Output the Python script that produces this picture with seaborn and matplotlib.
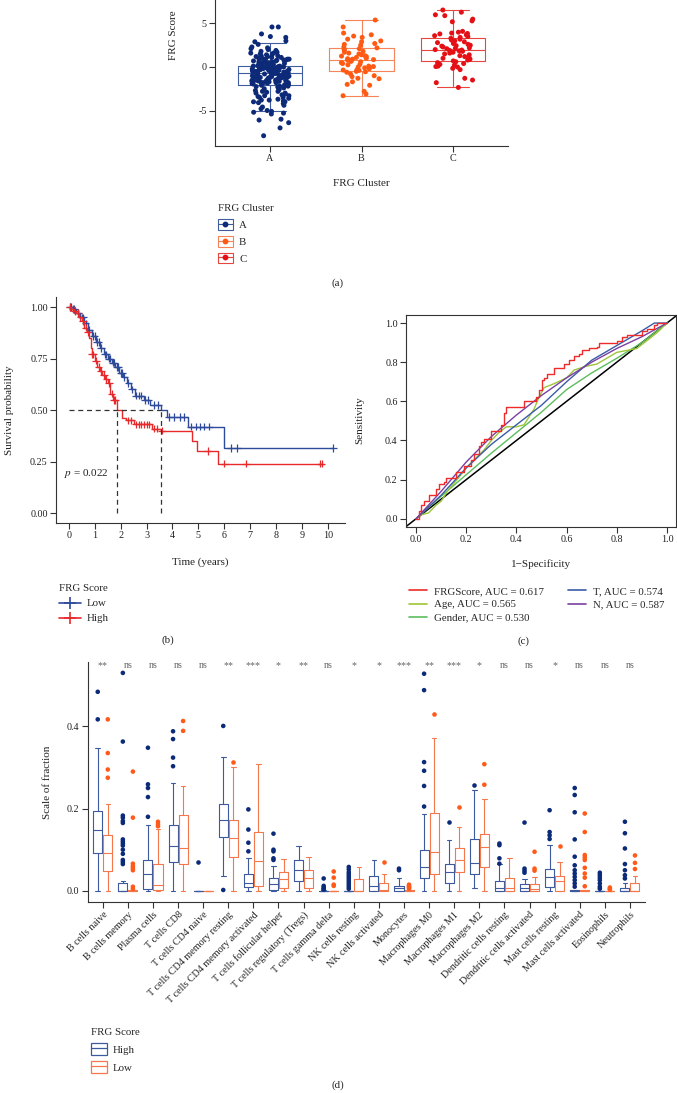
import numpy as np
import pandas as pd
import matplotlib
matplotlib.use("Agg")
import matplotlib.pyplot as plt
import seaborn as sns
from matplotlib.lines import Line2D
from matplotlib.patches import Patch
from matplotlib.legend_handler import HandlerTuple

# ---------------- data: panel (a) ----------------
clusters = ["A", "B", "C"]
scores_A = [4.6, 4.6, 3.8, 3.5, 3.4, 3.0, 2.9, 2.6, 2.3, 2.2, 2.1, 2.0, 1.9, 1.8, 1.7, 1.6, 1.6, 1.5, 1.5,
            1.4, 1.3, 1.3, 1.2, 1.2, 1.1, 1.1, 1.0, 1.0, 0.9, 0.9, 0.9, 0.8, 0.8, 0.8, 0.7, 0.7, 0.7, 0.6,
            0.6, 0.6, 0.5, 0.5, 0.5, 0.4, 0.4, 0.4, 0.3, 0.3, 0.3, 0.25,
            0.18, 0.15, 0.12, 0.1, 0.08, 0.05, 0.03, 0.0, -0.02, -0.05, -0.08, -0.1, -0.12, -0.15, -0.18,
            -0.2, -0.22, -0.25, -0.28, -0.3, -0.32, -0.35, -0.38, -0.4, -0.42, -0.45, -0.48, -0.5, -0.52,
            -0.55, -0.58, -0.6, -0.62, -0.65, -0.68, -0.7, -0.1, -0.3, -0.5, 0.0, -0.2, -0.4, -0.6, 0.1, -0.25,
            -0.72, -0.75, -0.8, -0.85, -0.9, -0.95, -1.0, -1.0, -1.05, -1.1, -1.1, -1.15, -1.2, -1.2, -1.25,
            -1.3, -1.3, -1.35, -1.4, -1.4, -1.45, -1.5, -1.5, -1.55, -1.6, -1.6, -1.65, -1.7, -1.7, -1.75,
            -1.8, -1.8, -1.85, -1.9, -1.9, -1.95, -2.0, -0.8, -0.9, -1.0, -1.2, -1.4, -1.6, -1.8, -1.0,
            -2.05, -2.1, -2.2, -2.25, -2.3, -2.4, -2.5, -2.5, -2.6, -2.7, -2.8, -2.9, -3.0, -3.0, -3.1, -3.2,
            -3.3, -3.3, -3.4, -3.5, -3.5, -3.6, -3.7, -3.8, -3.8, -3.9, -4.0, -4.0, -4.1, -4.2, -4.4, -4.6,
            -4.8, -5.0, -5.1, -5.2, -5.3, -5.4, -6.0, -6.1, -6.4, -7.0, -7.9, -2.2, -2.8]
scores_B = [5.4, 4.6, 3.9, 3.7, 3.55, 3.4, 3.2, 3.0, 2.9, 2.7, 2.6, 2.5, 2.3, 2.2, 2.1, 2.0, 1.95, 1.8, 1.7,
            1.6, 1.5, 1.4, 1.3, 1.2, 1.1, 1.0, 0.95, 0.9, 0.85, 0.8, 0.7, 0.65, 0.6, 0.5, 0.4, 0.3, 0.25,
            0.1, 0.05, -0.1, -0.2, -0.3, -0.35, -0.4, -0.5, -0.55, -0.6, -0.8, -1.0, -1.1, -1.3, -1.35,
            -1.7, -2.0, -2.1, -2.8, -3.1, -3.3, 0.0, 1.25]
scores_C = [6.55, 6.3, 6.0, 5.9, 5.5, 5.3, 5.2, 4.1, 4.0, 3.9, 3.85, 3.8, 3.7, 3.6, 3.5, 3.4, 3.3, 3.2, 3.1,
            2.9, 2.8, 2.7, 2.6, 2.5, 2.4, 2.3, 2.2, 2.1, 2.0, 1.95, 1.9, 1.8, 1.75, 1.7, 1.6, 1.5, 1.4, 1.3,
            1.2, 1.1, 1.0, 0.9, 0.8, 0.7, 0.6, 0.5, 0.4, 0.3, 0.2, 0.1, 0.05, 0.0, -0.15, -0.3, -1.3, -1.5,
            -1.8, -2.35, 2.45, 1.85, 3.0, 2.15]
# five-number summaries (whisker low, Q1, median, Q3, whisker high)
box_A = [-5.0, -2.03, -0.73, 0.15, 2.8]
box_B = [-3.3, -0.5, 0.8, 2.15, 5.4]
box_C = [-2.3, 0.69, 1.92, 3.33, 6.5]

# ---------------- data: panel (b) ----------------
km_low_t = [0, 0.15, 0.3, 0.45, 0.6, 0.75, 0.9, 1.05, 1.2, 1.35, 1.5, 1.65, 1.8, 1.95, 2.1, 2.25, 2.4,
            2.55, 2.9, 3.15, 3.55, 3.8, 4.6, 6.0, 10.2]
km_low_s = [1.0, 0.99, 0.97, 0.95, 0.92, 0.89, 0.86, 0.83, 0.80, 0.77, 0.75, 0.73, 0.71, 0.68, 0.66, 0.63,
            0.60, 0.57, 0.55, 0.525, 0.50, 0.465, 0.42, 0.315, 0.315]
km_high_t = [0, 0.1, 0.2, 0.3, 0.4, 0.5, 0.6, 0.7, 0.8, 0.85, 0.9, 1.0, 1.1, 1.2, 1.3, 1.4, 1.5, 1.6, 1.7,
             1.85, 2.05, 2.2, 2.5, 3.2, 3.55, 4.75, 4.95, 5.75, 9.75]
km_high_s = [1.0, 0.99, 0.98, 0.97, 0.95, 0.93, 0.90, 0.88, 0.85, 0.80, 0.77, 0.74, 0.71, 0.69, 0.67, 0.65,
             0.63, 0.58, 0.55, 0.50, 0.46, 0.45, 0.43, 0.41, 0.40, 0.35, 0.30, 0.24, 0.24]
cens_low = [0.05, 0.1, 0.2, 0.35, 0.5, 0.55, 0.65, 0.8, 0.95, 1.0, 1.1, 1.15, 1.25, 1.4, 1.45, 1.55, 1.6,
            1.7, 1.75, 1.85, 1.9, 2.0, 2.05, 2.15, 2.3, 2.45, 2.6, 2.7, 2.8, 2.95, 3.05, 3.3, 3.45, 3.85,
            4.05, 4.3, 4.45, 4.7, 4.9, 5.05, 5.2, 5.4, 6.25, 6.5, 10.2]
cens_high = [0.05, 0.15, 0.25, 0.35, 0.45, 0.55, 0.65, 0.75, 0.9, 0.95, 1.05, 1.15, 1.25, 1.35, 1.45,
             1.55, 1.65, 1.75, 1.8, 2.3, 2.4, 2.6, 2.7, 2.8, 2.9, 3.0, 3.1, 3.3, 3.4, 3.6, 5.35, 6.0, 6.85,
             9.7, 9.75]
median_times = [1.85, 3.55]
p_value = "0.022"

# ---------------- data: panel (c) ----------------
roc_frg_fpr = [0, 0.01, 0.02, 0.03, 0.05, 0.08, 0.09, 0.11, 0.12, 0.16, 0.19, 0.22, 0.23, 0.25, 0.26, 0.27,
               0.30, 0.34, 0.35, 0.36, 0.43, 0.48, 0.49, 0.50, 0.51, 0.52, 0.55, 0.59, 0.61, 0.63, 0.65,
               0.66, 0.69, 0.72, 0.73, 0.80, 0.82, 0.84, 0.90, 0.92, 0.95, 0.96, 1.0]
roc_frg_tpr = [0, 0.04, 0.07, 0.09, 0.12, 0.15, 0.18, 0.19, 0.21, 0.24, 0.27, 0.30, 0.33, 0.37, 0.39, 0.41,
               0.45, 0.48, 0.54, 0.57, 0.60, 0.62, 0.66, 0.71, 0.72, 0.74, 0.77, 0.79, 0.81, 0.83, 0.84,
               0.86, 0.87, 0.88, 0.90, 0.91, 0.93, 0.94, 0.96, 0.97, 0.99, 1.0, 1.0]
roc_age_fpr = [0, .02, .05, .08, .10, .13, .17, .20, .23, .27, .30, .33, .36, .40, .43, .45, .47, .49, .51,
               .55, .60, .63, .68, .72, .76, .80, .84, .88, .92, .96, 1.0]
roc_age_tpr = [0, 0.02, 0.03, 0.07, 0.09, 0.15, 0.21, 0.26, 0.30, 0.35, 0.40, 0.44, 0.47, 0.47, 0.48, 0.52,
               0.56, 0.62, 0.67, 0.69, 0.72, 0.76, 0.78, 0.79, 0.82, 0.85, 0.86, 0.87, 0.91, 0.95, 1.0]
roc_gender_fpr = [0, 0.1, 0.2, 0.3, 0.4, 0.5, 0.6, 0.7, 0.8, 0.9, 1.0]
roc_gender_tpr = [0, 0.115, 0.225, 0.335, 0.44, 0.545, 0.66, 0.745, 0.82, 0.9, 1.0]
roc_t_fpr = [0, 0.05, 0.1, 0.2, 0.3, 0.4, 0.5, 0.6, 0.7, 0.8, 0.9, 0.95, 1.0]
roc_t_tpr = [0, 0.06, 0.12, 0.26, 0.38, 0.48, 0.58, 0.70, 0.81, 0.885, 0.96, 1.0, 1.0]
roc_n_fpr = [0, 0.05, 0.1, 0.2, 0.3, 0.4, 0.5, 0.6, 0.7, 0.8, 0.9, 1.0]
roc_n_tpr = [0, 0.07, 0.14, 0.29, 0.42, 0.53, 0.63, 0.72, 0.80, 0.87, 0.93, 1.0]
roc_labels = ["FRGScore, AUC = 0.617", "Age, AUC = 0.565", "Gender, AUC = 0.530",
              "T, AUC = 0.574", "N, AUC = 0.587"]

# ---------------- data: panel (d) ----------------
cells = ["B cells naive", "B cells memory", "Plasma cells", "T cells CD8", "T cells CD4 naive",
         "T cells CD4 memory resting", "T cells CD4 memory activated", "T cells follicular helper",
         "T cells regulatory (Tregs)", "T cells gamma delta", "NK cells resting", "NK cells activated",
         "Monocytes", "Macrophages M0", "Macrophages M1", "Macrophages M2", "Dendritic cells resting",
         "Dendritic cells activated", "Mast cells resting", "Mast cells activated", "Eosinophils",
         "Neutrophils"]
signif = ["**", "ns", "ns", "ns", "ns", "**", "***", "*", "**", "ns", "*", "*", "***", "**", "***", "*",
          "ns", "ns", "*", "ns", "ns", "ns"]
high_box = [[0, 0.091, 0.147, 0.193, 0.347], [0, 0, 0, 0.019, 0.024], [0, 0.005, 0.04, 0.076, 0.16],
            [0, 0.071, 0.11, 0.16, 0.262], [0, 0, 0, 0, 0], [0.036, 0.131, 0.172, 0.212, 0.326],
            [0, 0.01, 0.02, 0.04, 0.08], [0, 0.002, 0.016, 0.03, 0.06], [0, 0.024, 0.05, 0.076, 0.109],
            [0, 0, 0, 0, 0.002], [0, 0, 0, 0, 0], [0, 0, 0.012, 0.036, 0.075], [0, 0, 0.006, 0.012, 0.032],
            [0, 0.03, 0.057, 0.099, 0.188], [0, 0.019, 0.045, 0.065, 0.123], [0.008, 0.04, 0.067, 0.125, 0.246],
            [0, 0, 0.007, 0.024, 0.064], [0, 0, 0.006, 0.016, 0.028], [0, 0.01, 0.033, 0.052, 0.111],
            [0, 0, 0, 0.003, 0.003], [0, 0, 0, 0, 0], [0, 0, 0, 0.008, 0.018]]
low_box = [[0, 0.048, 0.091, 0.135, 0.211], [0, 0, 0, 0.002, 0.003], [0, 0.003, 0.015, 0.064, 0.15],
           [0, 0.064, 0.104, 0.185, 0.254], [0, 0, 0, 0, 0], [0, 0.082, 0.129, 0.173, 0.30],
           [0, 0.012, 0.073, 0.144, 0.308], [0, 0.006, 0.028, 0.045, 0.078], [0, 0.006, 0.032, 0.05, 0.083],
           [0, 0, 0, 0, 0], [0, 0, 0, 0.028, 0.057], [0, 0, 0.002, 0.018, 0.042], [0, 0, 0, 0.002, 0.003],
           [0, 0.04, 0.095, 0.19, 0.372], [0, 0.046, 0.075, 0.105, 0.154], [0, 0.058, 0.107, 0.137, 0.224],
           [0, 0, 0.008, 0.03, 0.079], [0, 0, 0.005, 0.016, 0.034], [0, 0, 0.023, 0.037, 0.07],
           [0, 0, 0, 0.003, 0.003], [0, 0, 0, 0, 0], [0, 0, 0, 0.018, 0.036]]
high_out = [[0.484, 0.417], [0.53, 0.363, 0.183, 0.178, 0.17, 0.165, 0.125, 0.12, 0.115, 0.11, 0.10, 0.09,
                             0.075, 0.07, 0.065],
            [0.348, 0.259, 0.25, 0.228, 0.18], [0.388, 0.369, 0.324, 0.303], [0.069], [0.401, 0.002],
            [0.198, 0.149, 0.117, 0.096], [0.139, 0.1, 0.096, 0.079, 0.075], [],
            [0.03, 0.012, 0.008, 0.005, 0.003],
            [0.058, 0.052, 0.045, 0.04, 0.035, 0.03, 0.025, 0.02, 0.015, 0.01, 0.005], [], [0.054, 0.05],
            [0.528, 0.488, 0.313, 0.292, 0.255, 0.205], [0.168], [0.258], [0.115, 0.111, 0.079, 0.066],
            [0.166, 0.054, 0.049, 0.044], [0.196, 0.143, 0.135, 0.126],
            [0.25, 0.233, 0.191, 0.125, 0.083, 0.062, 0.05, 0.042, 0.034, 0.026, 0.018, 0.01],
            [0.044, 0.038, 0.032, 0.026, 0.018, 0.01, 0.005], [0.168, 0.14, 0.103, 0.065, 0.05, 0.038, 0.03]]
low_out = [[0.417, 0.335, 0.295, 0.275], [0.29, 0.178, 0.066, 0.06, 0.055, 0.05, 0.01, 0.005],
           [0.168, 0.162, 0.157], [0.413, 0.389], [], [0.314], [], [], [], [0.047, 0.032, 0.015, 0.012],
           [], [0.07], [0.015, 0.012, 0.01, 0.008, 0.005], [0.429], [0.203], [0.308, 0.258], [],
           [0.095, 0.054, 0.049], [0.109], [0.188, 0.143, 0.087, 0.081, 0.075, 0.056, 0.042, 0.032, 0.011],
           [0.008, 0.005, 0.003], [0.086, 0.068, 0.053]]

# ---------------- style ----------------
W, H = 677, 1093
sns.set_style("ticks")
plt.rcParams["font.family"] = ["Liberation Serif", "DejaVu Serif"]
plt.rcParams["mathtext.fontset"] = "stix"
plt.rcParams["axes.unicode_minus"] = False
TXT = "#222222"
FS_T, FS_L, FS_G = 7.3, 8.0, 7.8

fig = plt.figure(figsize=(W / 100, H / 100), dpi=100)


def rect(l, t, r, b):
    return [l / W, 1 - b / H, (r - l) / W, (b - t) / H]


def ftext(x, y, s, **kw):
    kw.setdefault("ha", "center")
    kw.setdefault("va", "center")
    kw.setdefault("fontsize", FS_L)
    kw.setdefault("color", TXT)
    fig.text(x / W, 1 - y / H, s, **kw)


def style_axes(ax, full=False):
    for sp in ["top", "right"]:
        ax.spines[sp].set_visible(full)
    for sp in ax.spines.values():
        sp.set_linewidth(0.8)
        sp.set_color("#333333")
    ax.tick_params(labelsize=FS_T, length=4, width=0.8, colors="#333333", labelcolor=TXT, pad=2)
    ax.set_xlabel("")
    ax.set_ylabel("")


# ================= panel (a) =================
ax_a = fig.add_axes(rect(215, 0, 508, 146))
box_col_a = {"A": "#3F5C9F", "B": "#F6845A", "C": "#E8453C"}
pt_col_a = {"A": "#0C2A78", "B": "#FF5A14", "C": "#E41016"}
df_abox = pd.DataFrame({"cluster": np.repeat(clusters, 5), "score": box_A + box_B + box_C})
sns.boxplot(data=df_abox, x="cluster", y="score", hue="cluster", order=clusters, palette=box_col_a,
            fill=False, whis=(0, 100), width=0.7, showfliers=False, linewidth=0.8, legend=False, ax=ax_a)
df_apts = pd.DataFrame({"cluster": ["A"] * len(scores_A) + ["B"] * len(scores_B) + ["C"] * len(scores_C),
                        "score": scores_A + scores_B + scores_C})
np.random.seed(3)
sns.stripplot(data=df_apts, x="cluster", y="score", hue="cluster", order=clusters, palette=pt_col_a,
              jitter=0.22, size=3.6, linewidth=0, legend=False, ax=ax_a)
ax_a.set_xlim(-0.6, 2.6)
ax_a.set_ylim(-9.08, 7.7)
ax_a.set_yticks([-5, 0, 5])
style_axes(ax_a)
ftext(173, 35, "FRG Score", rotation=90)
ftext(361, 184, "FRG Cluster")
h_a = [(Patch(facecolor="white", edgecolor=box_col_a[c], linewidth=0.8),
        Line2D([], [], color=box_col_a[c], lw=0.8),
        Line2D([], [], marker="o", color=pt_col_a[c], ls="none", markersize=3.2)) for c in clusters]
fig.legend(h_a, clusters, title="FRG Cluster", loc="upper left", bbox_to_anchor=(213 / W, 1 - 199 / H),
           frameon=False, fontsize=FS_G, title_fontsize=FS_G, alignment="left", borderpad=0,
           handler_map={tuple: HandlerTuple(ndivide=1)}, handlelength=1.3, handleheight=1.1,
           labelspacing=0.55, handletextpad=0.6)
ftext(338, 283, "(a)", fontsize=FS_G)

# ================= panel (b) =================
ax_b = fig.add_axes(rect(56, 296.7, 345, 523))
col_b = {"Low": "#2E4A9B", "High": "#E8292B"}
df_km = pd.DataFrame({"time": km_low_t + km_high_t, "surv": km_low_s + km_high_s,
                      "group": ["Low"] * len(km_low_t) + ["High"] * len(km_high_t)})
sns.lineplot(data=df_km, x="time", y="surv", hue="group", palette=col_b, estimator=None, sort=False,
             drawstyle="steps-post", linewidth=1.0, legend=False, ax=ax_b)


def surv_at(ts, ss, t):
    idx = np.searchsorted(ts, t, side="right") - 1
    return ss[idx]


df_cens = pd.DataFrame({
    "time": cens_low + cens_high,
    "surv": [surv_at(km_low_t, km_low_s, t) for t in cens_low] +
            [surv_at(km_high_t, km_high_s, t) for t in cens_high],
    "group": ["Low"] * len(cens_low) + ["High"] * len(cens_high)})
sns.scatterplot(data=df_cens, x="time", y="surv", hue="group", palette=col_b, marker="+", s=30,
                linewidth=0.9, legend=False, ax=ax_b)
ax_b.hlines(0.5, 0, max(median_times), colors="#333333", linestyles=(0, (4, 3)), linewidth=0.9)
ax_b.vlines(median_times, 0, 0.5, colors="#333333", linestyles=(0, (4, 3)), linewidth=0.9)
ax_b.text(-0.2, 0.19, r"$p$ = " + p_value, fontsize=FS_L, color=TXT, ha="left", va="center")
ax_b.set_xlim(-0.49, 10.65)
ax_b.set_ylim(-0.048, 1.05)
ax_b.set_xticks(range(0, 11))
ax_b.set_yticks([0, 0.25, 0.5, 0.75, 1.0])
ax_b.set_yticklabels(["0.00", "0.25", "0.50", "0.75", "1.00"])
style_axes(ax_b)
ftext(10, 410, "Survival probability", rotation=90)
ftext(200, 562, "Time (years)")
h_b = [Line2D([], [], color=col_b[g], marker="+", markersize=8, lw=1.2, markeredgewidth=1.2)
       for g in ["Low", "High"]]
fig.legend(h_b, ["Low", "High"], title="FRG Score", loc="upper left", bbox_to_anchor=(54 / W, 1 - 579 / H),
           frameon=False, fontsize=FS_G, title_fontsize=FS_G, alignment="left", borderpad=0,
           handlelength=2.0, labelspacing=0.5, handletextpad=0.5)
ftext(168, 640, "(b)", fontsize=FS_G)

# ================= panel (c) =================
ax_c = fig.add_axes(rect(406, 315, 676, 527))
roc_cols = ["#EE2A2A", "#9DC63A", "#5CBD5C", "#3A5BA8", "#7A3FA0"]
df_roc = pd.DataFrame({
    "fpr": roc_gender_fpr + roc_age_fpr + roc_t_fpr + roc_n_fpr,
    "tpr": roc_gender_tpr + roc_age_tpr + roc_t_tpr + roc_n_tpr,
    "model": [roc_labels[2]] * len(roc_gender_fpr) + [roc_labels[1]] * len(roc_age_fpr) +
             [roc_labels[3]] * len(roc_t_fpr) + [roc_labels[4]] * len(roc_n_fpr)})
pal_c = dict(zip(roc_labels, roc_cols))
ax_c.axline((0, 0), (1, 1), color="black", lw=1.1, zorder=1)
sns.lineplot(data=df_roc, x="fpr", y="tpr", hue="model", palette=pal_c, estimator=None, sort=False,
             linewidth=1.0, legend=False, ax=ax_c)
df_frg = pd.DataFrame({"fpr": roc_frg_fpr, "tpr": roc_frg_tpr})
sns.lineplot(data=df_frg, x="fpr", y="tpr", color=roc_cols[0], estimator=None, sort=False,
             drawstyle="steps-post", linewidth=1.0, ax=ax_c)
ax_c.set_xlim(-0.04, 1.036)
ax_c.set_ylim(-0.042, 1.041)
ax_c.set_xticks([0, 0.2, 0.4, 0.6, 0.8, 1.0])
ax_c.set_yticks([0, 0.2, 0.4, 0.6, 0.8, 1.0])
style_axes(ax_c, full=True)
ftext(360, 420, "Sensitivity", rotation=90)
ftext(541, 564, "1\u2212Specificity")
h_c = [Line2D([], [], color=c, lw=1.2) for c in roc_cols]
fig.legend(h_c, roc_labels, loc="upper left", bbox_to_anchor=(404 / W, 1 - 581 / H), ncol=2,
           frameon=False, fontsize=FS_G, borderpad=0, handlelength=1.6, handletextpad=0.7,
           labelspacing=0.35, columnspacing=2.2)
ftext(523, 641, "(c)", fontsize=FS_G)

# ================= panel (d) =================
ax_d = fig.add_axes(rect(87.7, 662, 645, 901.7))
groups = ["High", "Low"]
box_col_d = {"High": "#3D5A9E", "Low": "#F4784C"}
pt_col_d = {"High": "#0B2A78", "Low": "#FF5A1A"}
rows = []
for i, c in enumerate(cells):
    for g, stats in (("High", high_box[i]), ("Low", low_box[i])):
        for v in stats:
            rows.append((c, g, v))
df_dbox = pd.DataFrame(rows, columns=["cell", "group", "value"])
sns.boxplot(data=df_dbox, x="cell", y="value", hue="group", order=cells, hue_order=groups,
            palette=box_col_d, fill=False, whis=(0, 100), width=0.8, gap=0.1, showfliers=False,
            linewidth=0.8, legend=False, ax=ax_d)
orows = []
for i, c in enumerate(cells):
    for g, outs in (("High", high_out[i]), ("Low", low_out[i])):
        for v in outs:
            orows.append((c, g, v))
df_dout = pd.DataFrame(orows, columns=["cell", "group", "value"])
sns.stripplot(data=df_dout, x="cell", y="value", hue="group", order=cells, hue_order=groups,
              palette=pt_col_d, dodge=True, jitter=False, size=3.3, linewidth=0, legend=False, ax=ax_d)
for i, s in enumerate(signif):
    ax_d.text(i, 0.548, s, ha="center", va="center", fontsize=7.2, color="#666666")
ax_d.set_xlim(-0.6, 21.6)
ax_d.set_ylim(-0.0265, 0.5565)
ax_d.set_yticks([0, 0.2, 0.4])
ax_d.set_yticklabels(["0.0", "0.2", "0.4"])
ax_d.set_xticks(range(len(cells)))
ax_d.set_xticklabels(cells, rotation=45, ha="right", rotation_mode="anchor")
style_axes(ax_d)
ftext(47, 782, "Scale of fraction", rotation=90)
h_d = [(Patch(facecolor="white", edgecolor=box_col_d[g], linewidth=0.9),
        Line2D([], [], color=box_col_d[g], lw=0.9)) for g in groups]
fig.legend(h_d, groups, title="FRG Score", loc="upper left", bbox_to_anchor=(86 / W, 1 - 1023 / H),
           frameon=False, fontsize=FS_G, title_fontsize=FS_G, alignment="left", borderpad=0,
           handler_map={tuple: HandlerTuple(ndivide=1)}, handlelength=1.4, handleheight=1.3,
           labelspacing=0.55, handletextpad=0.6)
ftext(338, 1085, "(d)", fontsize=FS_G)

fig.savefig("out.png", dpi=100)
